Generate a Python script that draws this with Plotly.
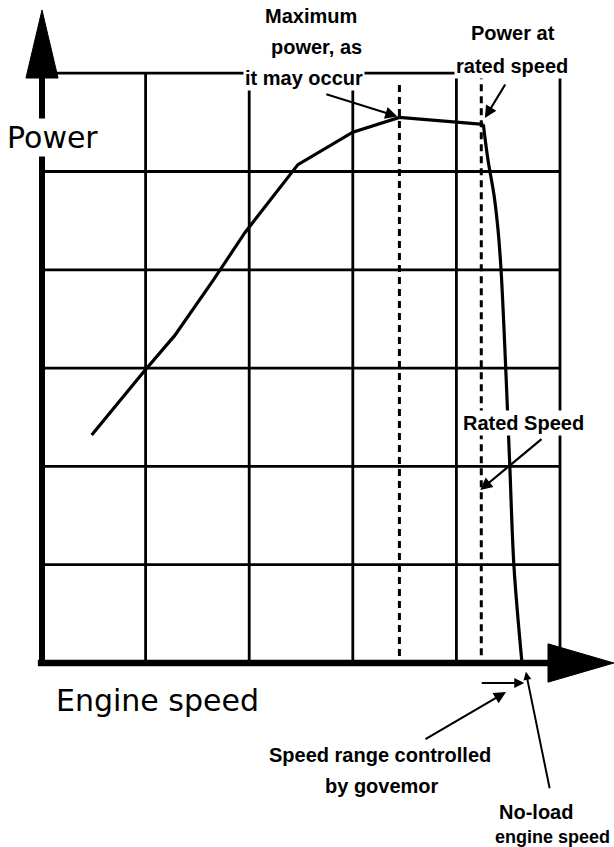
import plotly.graph_objects as go

# ---------------- data (grid units: 1 speed cell, 1 power cell) ----------------
grid_speed = [0, 1, 2, 3, 4, 5]
grid_power = [0, 1, 2, 3, 4, 5, 6]

speed = [0.48, 0.98, 1.28, 1.65, 1.96, 2.47, 3.00, 3.45, 4.26,
         4.305, 4.363, 4.402, 4.431, 4.460, 4.489, 4.517, 4.556, 4.633]
power = [2.32, 2.96, 3.33, 3.89, 4.38, 5.07, 5.40, 5.55, 5.48,
         5.117, 4.761, 4.405, 3.998, 3.388, 2.676, 1.963, 0.977, 0.00]
rated_index = 8  # curve point at rated speed (start of governor droop)

max_power_speed = 3.45
rated_speed = 4.24
no_load_speed = 4.69

# ---------------- figure ----------------
W, H = 614, 847
x_range = [-0.4054, 5.5212]
y_range = [-1.8718, 6.7447]
BLACK = "#000000"

fig = go.Figure()

# grid: vertical lines
vx, vy = [], []
for s in grid_speed[1:]:
    vx += [s, s, None]
    vy += [grid_power[0], grid_power[-1], None]
fig.add_trace(go.Scatter(x=vx, y=vy, mode="lines", line=dict(color=BLACK, width=2.8), hoverinfo="skip"))

# grid: horizontal lines
hx, hy = [], []
for p in grid_power[1:]:
    hx += [grid_speed[0], grid_speed[-1], None]
    hy += [p, p, None]
fig.add_trace(go.Scatter(x=hx, y=hy, mode="lines", line=dict(color=BLACK, width=2.8), hoverinfo="skip"))

# dashed verticals (max power, rated speed)
fig.add_trace(go.Scatter(x=[max_power_speed, max_power_speed], y=[0.07, 5.92], mode="lines",
                         line=dict(color=BLACK, width=3, dash="7px,5px"), hoverinfo="skip"))
fig.add_trace(go.Scatter(x=[rated_speed, rated_speed], y=[0.08, 6.0], mode="lines",
                         line=dict(color=BLACK, width=3, dash="7px,5px"), hoverinfo="skip"))

# axes (thick) with arrowheads
y_tip = 6.643
y_base = 5.951
x_tip = 5.52
x_base = 4.884
fig.add_trace(go.Scatter(x=[0, 0], y=[0, y_base], mode="lines", line=dict(color=BLACK, width=6), hoverinfo="skip"))
fig.add_trace(go.Scatter(x=[-0.04, x_base], y=[0, 0], mode="lines", line=dict(color=BLACK, width=6.5), hoverinfo="skip"))
hw = 0.155
fig.add_trace(go.Scatter(x=[-hw, hw, 0.0, -hw], y=[y_base, y_base, y_tip, y_base], mode="lines",
                         fill="toself", fillcolor=BLACK, line=dict(color=BLACK, width=1), hoverinfo="skip"))
hh = 0.195
fig.add_trace(go.Scatter(x=[x_base, x_base, x_tip, x_base], y=[-hh, hh, 0.0, -hh], mode="lines",
                         fill="toself", fillcolor=BLACK, line=dict(color=BLACK, width=1), hoverinfo="skip"))

# power curve: rising part (polyline) and governor droop (smooth)
fig.add_trace(go.Scatter(x=speed[:rated_index + 1], y=power[:rated_index + 1], mode="lines",
                         line=dict(color=BLACK, width=3.2), hoverinfo="skip"))
fig.add_trace(go.Scatter(x=speed[rated_index:], y=power[rated_index:], mode="lines",
                         line=dict(color=BLACK, width=3.2, shape="spline", smoothing=1.0), hoverinfo="skip"))

# ---------------- labels ----------------
LBL = dict(family="Liberation Sans, Arial, sans-serif", size=20, color=BLACK)
AX = dict(family="DejaVu Sans, sans-serif", size=30, color=BLACK)

def label(text, x, y, font=LBL, bold=True, bg="white", pad=1):
    fig.add_annotation(x=x, y=y, xref="x", yref="y", text=(f"<b>{text}</b>" if bold else text),
                       showarrow=False, font=font, bgcolor=bg, borderpad=pad,
                       xanchor="center", yanchor="middle")

def arrow(x0, y0, x1, y1, size=1.1, width=2.2):
    fig.add_annotation(x=x1, y=y1, ax=x0, ay=y0, xref="x", yref="y", axref="x", ayref="y",
                       text="", showarrow=True, arrowhead=2, arrowsize=size, arrowwidth=width,
                       arrowcolor=BLACK, standoff=0, startstandoff=0)

label("Maximum", 2.597, 6.58)
label("power, as", 2.654, 6.27)
label("it may occur", 2.529, 5.955)
label("Power at", 4.546, 6.41)
label("rated speed", 4.532, 6.075)
label("Rated Speed", 4.643, 2.44)
label("Speed range controlled", 3.263, -0.936)
label("by govemor", 3.282, -1.25)
label("No-load", 4.768, -1.516)
label("engine speed", 4.925, -1.765, font=dict(LBL, size=18), pad=0)

label("Power", 0.106, 5.35, font=AX, bold=False)
label("Engine speed", 1.11, -0.38, font=AX, bold=False, bg="rgba(0,0,0,0)")

# arrows
arrow(2.73, 5.79, max_power_speed - 0.02, 5.56)
arrow(4.48, 5.90, 4.275, 5.545)
arrow(4.836, 2.29, rated_speed - 0.01, 1.76)
arrow(3.687, -0.783, 4.479, -0.295)
arrow(4.23, -0.203, 4.655, -0.203, size=1.0, width=2.0)
arrow(4.903, -1.29, no_load_speed - 0.02, -0.09, size=0.8, width=2.0)

fig.update_layout(
    width=W, height=H, autosize=False,
    margin=dict(l=0, r=0, t=0, b=0, pad=0),
    paper_bgcolor="white", plot_bgcolor="white",
    showlegend=False,
    xaxis=dict(range=x_range, visible=False, fixedrange=True),
    yaxis=dict(range=y_range, visible=False, fixedrange=True),
)

fig.write_html("out.html", config={"displayModeBar": False},
               post_script="document.body.style.margin='0';")
